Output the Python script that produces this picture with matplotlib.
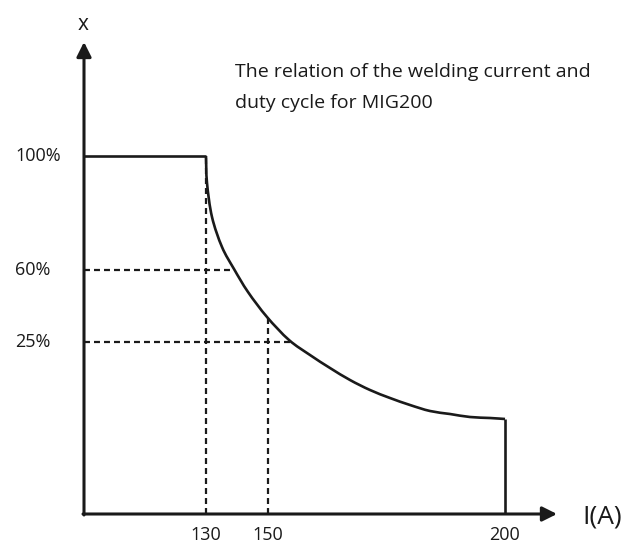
import matplotlib
matplotlib.use('Agg')
import matplotlib.pyplot as plt
import numpy as np
from matplotlib.path import Path
from matplotlib.patches import PathPatch

plt.rcParams['font.family'] = ['Open Sans', 'DejaVu Sans']
plt.rcParams['lines.scale_dashes'] = False

#%% data (schematic units: distance from the axis origin)
curve_x = [122, 123, 128, 138, 150, 164, 183, 205, 226, 246, 266, 286, 306, 326, 346, 366, 386, 406, 421]
curve_y = [358, 331, 297, 267, 245, 222, 197, 174, 159, 146, 134, 124, 116, 109, 103, 100, 97, 96, 95]

top_y = 358          # 100% level
end_x = 421          # 200 A
end_y = 95           # duty at 200 A

xtick_pos = [122, 184, 421]
xtick_lab = ['130', '150', '200']
ytick_pos = [358, 244, 172]
ytick_lab = ['100%', '60%', '25%']

# where the dashed guide lines meet the curve
hguide_end = [150, 207]      # 60%, 25%
vguide_top = [358, 196]      # 130, 150


def smooth_path(xs, ys):
    # Catmull-Rom through the read points, drawn as cubic bezier segments
    p = np.column_stack([xs, ys]).astype(float)
    verts = [p[0]]
    codes = [Path.MOVETO]
    n = len(p)
    for i in range(n - 1):
        p0 = p[i - 1] if i > 0 else p[i]
        p1, p2 = p[i], p[i + 1]
        p3 = p[i + 2] if i + 2 < n else p[i + 1]
        verts += [p1 + (p2 - p0) / 6, p2 - (p3 - p1) / 6, p2]
        codes += [Path.CURVE4] * 3
    return Path(verts, codes)


#%% plot
fig = plt.figure(figsize=(6.41, 5.43), dpi=100)
ax = fig.add_axes([0, 0, 1, 1])
ax.set_xlim(-84, 557)
ax.set_ylim(-29, 514)
ax.axis('off')

# axes with arrows
ax.annotate('', xy=(473, 0), xytext=(-1, 0),
            arrowprops=dict(arrowstyle='-|>', lw=2.2, color='#1a1a1a', mutation_scale=22,
                            shrinkA=0, shrinkB=0))
ax.annotate('', xy=(0, 472), xytext=(0, -1),
            arrowprops=dict(arrowstyle='-|>', lw=2.2, color='#1a1a1a', mutation_scale=22,
                            shrinkA=0, shrinkB=0))

# duty cycle curve
ax.plot([0, curve_x[0]], [top_y, top_y], color='#1a1a1a', lw=1.9, solid_capstyle='butt')
ax.add_patch(PathPatch(smooth_path(curve_x, curve_y), facecolor='none',
                       edgecolor='#1a1a1a', lw=1.9, joinstyle='round'))
ax.plot([end_x, end_x], [end_y, 0], color='#1a1a1a', lw=1.9, solid_capstyle='butt')

# dashed guides
dash = (0, (4.3, 2.9))
for yp, xe in zip(ytick_pos[1:], hguide_end):
    ax.plot([0, xe], [yp, yp], color='#1a1a1a', lw=1.6, linestyle=dash)
for xp, ye in zip(xtick_pos[:2], vguide_top):
    ax.plot([xp, xp], [0, ye], color='#1a1a1a', lw=1.6, linestyle=dash)

# labels
for xp, lab in zip(xtick_pos, xtick_lab):
    ax.text(xp, -21, lab, ha='center', va='center', fontsize=13, color='#1a1a1a')
for yp, lab in zip(ytick_pos, ytick_lab):
    ax.text(-69, yp, lab, ha='left', va='center', fontsize=13, color='#1a1a1a')

ax.text(-1, 489, 'x', ha='center', va='center', fontsize=15, color='#1a1a1a')
ax.text(498, -3, 'I(A)', ha='left', va='center', fontsize=19, color='#1a1a1a')

ax.text(151, 442, 'The relation of the welding current and', ha='left', va='center',
        fontsize=14, color='#1a1a1a')
ax.text(151, 411, 'duty cycle for MIG200', ha='left', va='center',
        fontsize=14, color='#1a1a1a')

fig.savefig('out.png', dpi=100)
